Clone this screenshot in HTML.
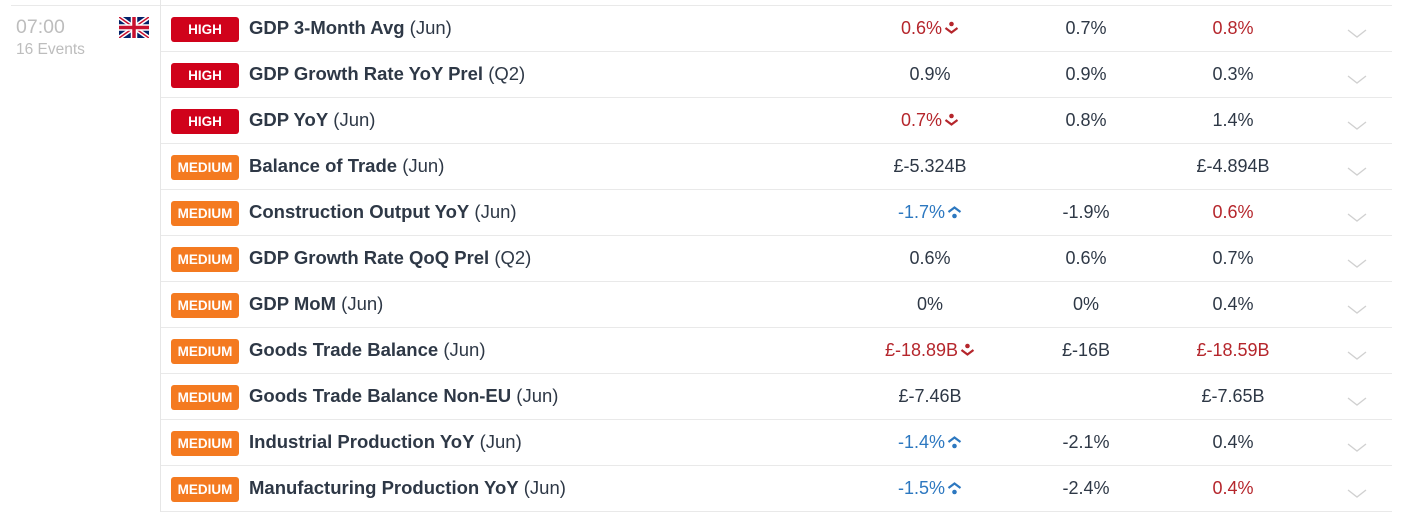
<!DOCTYPE html>
<html><head><meta charset="utf-8"><style>
*{margin:0;padding:0;box-sizing:border-box}
body{width:1425px;height:512px;background:#fff;position:relative;overflow:hidden;font-family:"Liberation Sans",Arial,sans-serif;color:#2e3846}
.vl{position:absolute;left:160px;top:0;width:1px;height:512px;background:#e6e6e6}
.tl{position:absolute;left:11px;top:5px;width:1381px;height:1px;background:#e9e9e9}
.row{position:absolute;left:161px;width:1231px;height:46px;border-bottom:1px solid #e9e9e9}
.b{position:absolute;left:10px;top:11px;width:68px;height:25px;border-radius:3px;color:#fff;font-weight:bold;font-size:13.5px;text-align:center;line-height:25px}
.h{background:#d0021b}.m{background:#f47a20}
.n{position:absolute;left:88px;top:11px;font-size:18.5px;white-space:nowrap;line-height:22px}
.n b{font-weight:bold}
.c{position:absolute;top:11px;font-size:18px;line-height:22px;white-space:nowrap;transform:translateX(-50%)}
.r{color:#b5262c}.u{color:#2d78c0}
.c svg{vertical-align:-1px;margin-left:2px}
.ch{position:absolute;left:1186px;top:23px}
</style></head><body>
<div class="tl"></div><div class="vl"></div>
<div style="position:absolute;left:16px;top:16px;font-size:19.5px;color:#bdbdbd">07:00</div>
<div style="position:absolute;left:16px;top:41px;font-size:15.5px;color:#bdbdbd">16 Events</div>
<svg style="position:absolute;left:119px;top:17px" width="30" height="21" viewBox="0 0 60 42">
<rect width="60" height="42" fill="#012169"/>
<path d="M0,0L60,42M60,0L0,42" stroke="#fff" stroke-width="9"/>
<path d="M0,0L60,42M60,0L0,42" stroke="#c8102e" stroke-width="3"/>
<path d="M30,0V42M0,21H60" stroke="#fff" stroke-width="13"/>
<path d="M30,0V42M0,21H60" stroke="#c8102e" stroke-width="7"/>
</svg>
<div id="rows"></div>
<script>
var D=[["h","HIGH","GDP 3-Month Avg","(Jun)",["0.6%","r","d"],["0.7%"],["0.8%","r"]],
["h","HIGH","GDP Growth Rate YoY Prel","(Q2)",["0.9%"],["0.9%"],["0.3%"]],
["h","HIGH","GDP YoY","(Jun)",["0.7%","r","d"],["0.8%"],["1.4%"]],
["m","MEDIUM","Balance of Trade","(Jun)",["£-5.324B"],[""],["£-4.894B"]],
["m","MEDIUM","Construction Output YoY","(Jun)",["-1.7%","u","up"],["-1.9%"],["0.6%","r"]],
["m","MEDIUM","GDP Growth Rate QoQ Prel","(Q2)",["0.6%"],["0.6%"],["0.7%"]],
["m","MEDIUM","GDP MoM","(Jun)",["0%"],["0%"],["0.4%"]],
["m","MEDIUM","Goods Trade Balance","(Jun)",["£-18.89B","r","d"],["£-16B"],["£-18.59B","r"]],
["m","MEDIUM","Goods Trade Balance Non-EU","(Jun)",["£-7.46B"],[""],["£-7.65B"]],
["m","MEDIUM","Industrial Production YoY","(Jun)",["-1.4%","u","up"],["-2.1%"],["0.4%"]],
["m","MEDIUM","Manufacturing Production YoY","(Jun)",["-1.5%","u","up"],["-2.4%"],["0.4%","r"]]];
var ic={d:'<svg width="15" height="14" viewBox="0 0 15 14"><circle cx="7.5" cy="3" r="2.3" fill="#b5262c"/><path d="M1.5,7L7.5,11.5L13.5,7" stroke="#b5262c" stroke-width="2.2" fill="none"/></svg>',
up:'<svg width="15" height="14" viewBox="0 0 15 14"><path d="M1.5,7L7.5,2.5L13.5,7" stroke="#2d78c0" stroke-width="2.2" fill="none"/><circle cx="7.5" cy="11" r="2.3" fill="#2d78c0"/></svg>'};
var h="";
D.forEach(function(d,i){
 h+='<div class="row" style="top:'+(6+i*46)+'px"><div class="b '+d[0]+'">'+d[1]+'</div><div class="n"><b>'+d[2]+'</b> '+d[3]+'</div>';
 [[d[4],769],[d[5],925],[d[6],1072]].forEach(function(v){
  h+='<div class="c '+(v[0][1]||"")+'" style="left:'+v[1]+'px">'+v[0][0]+(v[0][2]?ic[v[0][2]]:"")+'</div>';
 });
 h+='<svg class="ch" width="20" height="10"><path d="M1,1L10,8L19,1" stroke="#d0d0d0" stroke-width="1.3" fill="none"/></svg></div>';
});
document.getElementById("rows").innerHTML=h;
</script>
</body></html>
